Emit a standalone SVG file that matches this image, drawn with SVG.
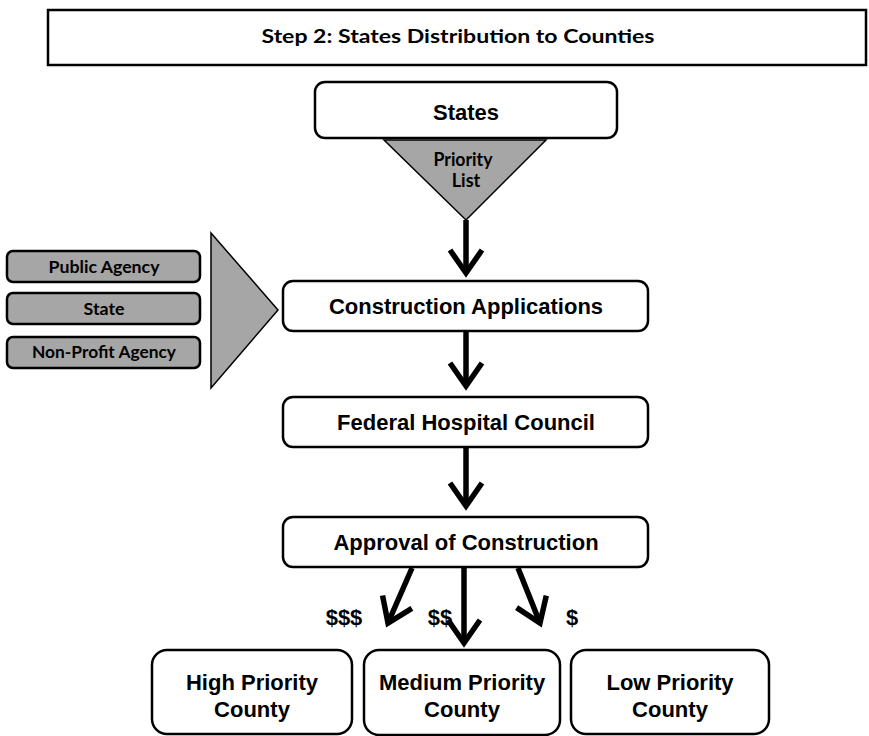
<svg xmlns="http://www.w3.org/2000/svg" width="869" height="736" viewBox="0 0 869 736">
<style>
.box{fill:#fff;stroke:#000;stroke-width:2.5}
.gbox{fill:#a6a6a6;stroke:#000;stroke-width:2.5}
.tri{fill:#a6a6a6;stroke:#000;stroke-width:1.5}
.a{font-family:"Liberation Sans",Arial,sans-serif;font-weight:bold;font-size:22px;text-anchor:middle;fill:#000}
.c{font-family:Lato,"Open Sans",sans-serif;font-weight:bold;text-anchor:middle;fill:#000}
.arr{stroke:#000;stroke-width:5.5;fill:none;marker-end:url(#chev)}
</style>
<defs>
<marker id="chev" markerUnits="userSpaceOnUse" orient="auto" overflow="visible" refX="0" refY="0" markerWidth="1" markerHeight="1">
<path d="M-23,-16 L0,0 L-23,16" fill="none" stroke="#000" stroke-width="5.5"/>
</marker>
</defs>
<rect width="869" height="736" fill="#fff"/>
<g id="title">
<rect x="48" y="10" width="818" height="55" fill="#fff" stroke="#000" stroke-width="2.5"/>
<text class="c" x="458" y="43" font-size="19" textLength="393" lengthAdjust="spacingAndGlyphs">Step 2: States Distribution to Counties</text>
</g>
<g id="states">
<rect class="box" x="315" y="82" width="302" height="56" rx="10"/>
<text class="a" x="466" y="120" font-size="23">States</text>
</g>
<g id="priority-list">
<polygon class="tri" points="384,140 546,140 466,220"/>
<text class="c" x="463" y="166" font-size="18" textLength="59" lengthAdjust="spacingAndGlyphs">Priority</text>
<text class="c" x="466" y="187" font-size="18">List</text>
</g>
<g id="public-agency">
<rect class="gbox" x="7" y="251" width="193" height="31" rx="6"/>
<text class="c" x="104" y="273" font-size="17" textLength="111" lengthAdjust="spacingAndGlyphs">Public Agency</text>
</g>
<g id="state">
<rect class="gbox" x="7" y="293" width="193" height="31" rx="6"/>
<text class="c" x="104" y="315" font-size="17" textLength="41" lengthAdjust="spacingAndGlyphs">State</text>
</g>
<g id="non-profit-agency">
<rect class="gbox" x="7" y="337" width="193" height="31" rx="6"/>
<text class="c" x="104" y="358" font-size="17" textLength="144" lengthAdjust="spacingAndGlyphs">Non-Profit Agency</text>
</g>
<g id="input-triangle">
<polygon class="tri" points="211,233 278,310 211,388"/>
</g>
<g id="construction-applications">
<rect class="box" x="283" y="281" width="365" height="50" rx="10"/>
<text class="a" x="466" y="314">Construction Applications</text>
</g>
<g id="federal-hospital-council">
<rect class="box" x="283" y="397" width="365" height="50" rx="10"/>
<text class="a" x="466" y="430">Federal Hospital Council</text>
</g>
<g id="approval-of-construction">
<rect class="box" x="283" y="517" width="365" height="50" rx="10"/>
<text class="a" x="466" y="550">Approval of Construction</text>
</g>
<g id="high-priority-county">
<rect class="box" x="152" y="650" width="200" height="84" rx="15"/>
<text class="a" x="252" y="690">High Priority</text>
<text class="a" x="252" y="717">County</text>
</g>
<g id="medium-priority-county">
<rect class="box" x="364" y="650" width="196" height="85" rx="15"/>
<text class="a" x="462" y="690">Medium Priority</text>
<text class="a" x="462" y="717">County</text>
</g>
<g id="low-priority-county">
<rect class="box" x="571" y="650" width="198" height="84" rx="15"/>
<text class="a" x="670" y="690">Low Priority</text>
<text class="a" x="670" y="717">County</text>
</g>
<g id="connectors">
<line class="arr" x1="466" y1="220" x2="466" y2="273"/>
<line class="arr" x1="466" y1="331" x2="466" y2="386"/>
<line class="arr" x1="466" y1="448" x2="466" y2="506"/>
<line class="arr" x1="412" y1="568" x2="388" y2="623"/>
<line class="arr" x1="464" y1="567" x2="464" y2="643"/>
<line class="arr" x1="518" y1="568" x2="540" y2="623"/>
</g>
<g id="labels">
<text class="a" x="344" y="625">$$$</text>
<text class="a" x="440" y="625">$$</text>
<text class="a" x="572" y="625">$</text>
</g>
</svg>
